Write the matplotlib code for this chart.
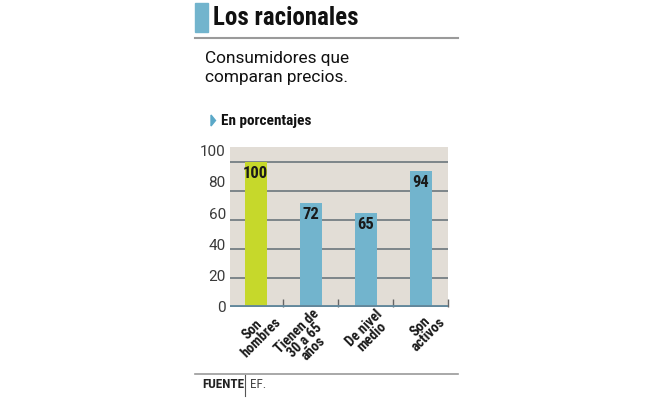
import numpy as np
import matplotlib.pyplot as plt
from matplotlib.patches import Rectangle, Polygon
from matplotlib.lines import Line2D

categorias = ["Son\nhombres", "Tienen de\n30 a 65\naños", "De nivel\nmedio", "Son\nactivos"]
valores = [100, 72, 65, 94]
colores = ["#c6d82b", "#72b4cd", "#72b4cd", "#72b4cd"]
yticks = [0, 20, 40, 60, 80, 100]

estrecha = ["Roboto Condensed", "Asap Condensed", "Archivo Narrow", "DejaVu Sans"]
normal = ["Roboto", "DejaVu Sans"]

W, H = 653, 398


def fx(px):
    return px / W


def fy(py):
    return 1 - py / H


fig = plt.figure(figsize=(6.53, 3.98), dpi=100)

# cabecera
fig.patches.append(Rectangle((fx(195), fy(32)), 13 / W, 29 / H,
                             transform=fig.transFigure, color="#72b4cd"))
fig.text(fx(213), fy(18), "Los racionales", fontsize=18, fontweight="bold",
         family=estrecha, va="center", ha="left", color="#111111")
fig.add_artist(Line2D([fx(195), fx(458)], [fy(38)] * 2,
                      transform=fig.transFigure, color="#9a9a9a", lw=1.5))
fig.text(fx(205), fy(68), "Consumidores que\ncomparan precios.", fontsize=12.4,
         family=normal, va="center", ha="left", linespacing=1.3, color="#111111")
fig.patches.append(Polygon([[fx(211), fy(115)], [fx(211), fy(126)], [fx(215.5), fy(120.5)]],
                           closed=True, transform=fig.transFigure, color="#5aa8c8"))
fig.text(fx(221), fy(121), "En porcentajes", fontsize=11, fontweight="bold",
         family=estrecha, va="center", ha="left", color="#111111")

# grafico
ax = fig.add_axes([fx(230), 91 / H, 218 / W, 160 / H])
ax.set_facecolor("#e2ddd6")
x = np.arange(len(valores))
for v in yticks[1:]:
    ax.axhline(v, color="#6c767c", lw=1.2, zorder=1)
ax.bar(x, valores, width=0.4, color=colores, zorder=2)
ax.axhline(0, color="#62879b", lw=3.5, zorder=3)
for xi, v in zip(x, valores):
    ax.text(xi, v - 8, str(v), ha="center", va="center", fontsize=12,
            fontweight="bold", family=estrecha, color="#1a1a1a", zorder=4)

ax.set_xlim(-0.47, 3.5)
ax.set_ylim(0, 110.3)
ax.set_xticks([0.5, 1.5, 2.5, 3.5])
ax.set_xticklabels([])
ax.tick_params(axis="x", direction="in", length=6, color="#666666", width=1)
ax.set_yticks([t * 1.08 for t in yticks])
ax.set_yticklabels([str(t) for t in yticks], fontsize=11, family=normal, color="#3a3a3a")
ax.tick_params(axis="y", length=0, pad=3)
for s in ax.spines.values():
    s.set_visible(False)

for xi, lab in zip(x, categorias):
    ax.text(xi + 0.5, 0, lab, rotation=45, ha="right", va="top",
            multialignment="center", fontsize=10.3, fontweight="bold",
            family=estrecha, color="#1a1a1a", linespacing=0.8)

# pie
fig.add_artist(Line2D([fx(195), fx(458)], [fy(374)] * 2,
                      transform=fig.transFigure, color="#9a9a9a", lw=1.2))
fig.add_artist(Line2D([fx(245), fx(245)], [fy(375), fy(396)],
                      transform=fig.transFigure, color="#555555", lw=0.8))
fig.text(fx(202), fy(385), "FUENTE", fontsize=9.5, fontweight="bold",
         family=estrecha, va="center", ha="left", color="#222222")
fig.text(fx(250), fy(385), "EF.", fontsize=9.5, family=estrecha,
         va="center", ha="left", color="#444444")

fig.savefig("out.png", dpi=100)
